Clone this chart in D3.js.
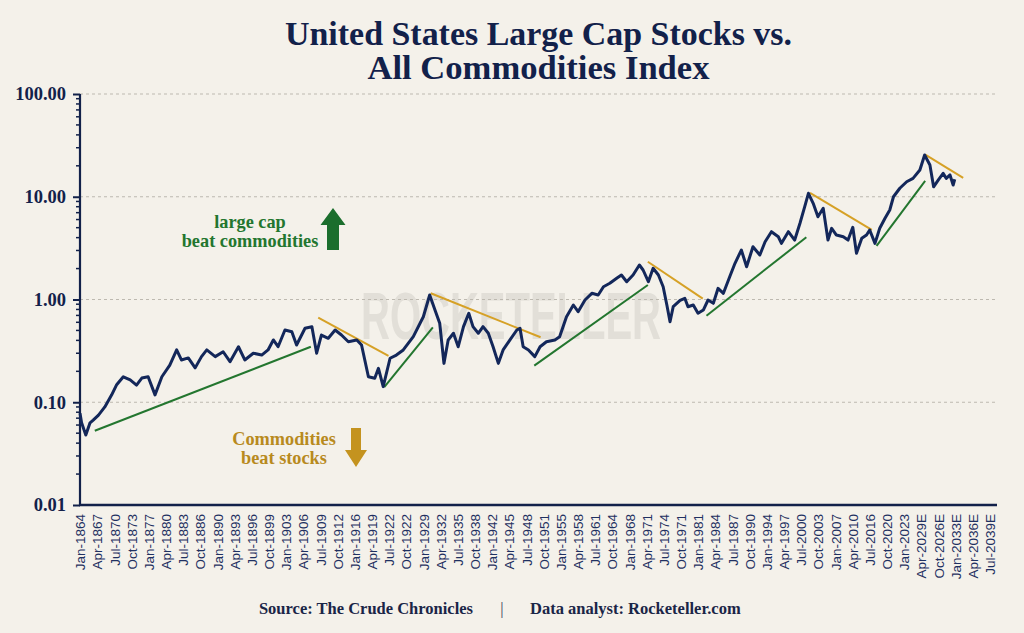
<!DOCTYPE html>
<html>
<head>
<meta charset="utf-8">
<script src="https://cdn.jsdelivr.net/npm/d3@7"></script>
<style>
  html, body { margin: 0; padding: 0; background: #f4f1ea; }
  svg { display: block; }
</style>
</head>
<body>
<svg id="chart" width="1024" height="633"></svg>
<script>
// ---------- DATA ----------
const tickLabels = ["Jan-1864","Apr-1867","Jul-1870","Oct-1873","Jan-1877","Apr-1880","Jul-1883","Oct-1886","Jan-1890","Apr-1893","Jul-1896","Oct-1899","Jan-1903","Apr-1906","Jul-1909","Oct-1912","Jan-1916","Apr-1919","Jul-1922","Oct-1922","Jan-1929","Apr-1932","Jul-1935","Oct-1938","Jan-1942","Apr-1945","Jul-1948","Oct-1951","Jan-1955","Apr-1958","Jul-1961","Oct-1964","Jan-1968","Apr-1971","Jul-1974","Oct-1971","Jan-1981","Apr-1984","Jul-1987","Oct-1990","Jan-1994","Apr-1997","Jul-2000","Oct-2003","Jan-2007","Apr-2010","Jul-2016","Oct-2020","Jan-2023","Apr-2029E","Oct-2026E","Jan-2033E","Apr-2036E","Jul-2039E"];
const tickStartYear = 1864;
const tickStepYears = 3.25;

const yTickValues = [0.01, 0.1, 1, 10, 100];

const seriesYears = [1864.0,1864.3,1865.1,1865.9,1866.5,1867.5,1868.7,1870.0,1870.9,1872.2,1873.5,1874.7,1875.7,1876.9,1878.2,1879.5,1881.0,1882.3,1883.2,1884.5,1885.8,1887.0,1888.0,1889.6,1891.1,1892.4,1894.0,1895.2,1896.8,1898.4,1899.6,1900.6,1901.5,1902.8,1904.1,1905.0,1906.6,1907.9,1908.8,1909.7,1911.0,1912.3,1913.5,1914.8,1916.4,1917.3,1918.6,1919.8,1920.5,1921.4,1922.7,1923.9,1925.2,1927.1,1929.0,1930.2,1931.2,1932.1,1932.9,1933.7,1934.7,1935.6,1936.6,1937.6,1938.4,1939.4,1940.3,1941.3,1942.2,1943.2,1944.1,1945.4,1946.7,1947.3,1947.9,1948.9,1950.1,1951.1,1952.3,1953.9,1954.8,1956.1,1957.4,1958.3,1959.6,1960.9,1962.1,1963.1,1964.3,1965.6,1966.5,1967.5,1968.7,1969.9,1970.6,1971.6,1972.5,1973.5,1974.4,1975.1,1975.7,1976.3,1977.6,1978.5,1979.1,1980.1,1981.0,1982.0,1982.9,1983.9,1984.8,1985.8,1987.0,1988.0,1989.2,1990.2,1991.4,1992.7,1993.7,1994.9,1996.2,1996.8,1998.1,1999.3,2000.3,2001.2,2001.9,2002.8,2003.7,2004.7,2005.6,2006.3,2007.2,2008.5,2009.4,2010.3,2011.0,2012.0,2012.9,2013.5,2014.5,2015.4,2016.4,2017.3,2018.0,2019.2,2020.5,2021.7,2023.0,2023.9,2024.9,2025.6,2026.5,2027.4,2028.0,2028.7,2029.3,2029.6];
const seriesValues = [0.078,0.063,0.048,0.063,0.067,0.075,0.090,0.118,0.147,0.177,0.165,0.147,0.172,0.177,0.118,0.177,0.230,0.323,0.258,0.270,0.216,0.278,0.323,0.278,0.310,0.248,0.347,0.258,0.300,0.288,0.323,0.404,0.347,0.505,0.486,0.361,0.525,0.544,0.300,0.451,0.419,0.505,0.451,0.388,0.404,0.361,0.177,0.171,0.214,0.142,0.268,0.288,0.323,0.435,0.680,1.106,0.790,0.587,0.239,0.404,0.469,0.347,0.544,0.734,0.544,0.469,0.544,0.469,0.347,0.239,0.323,0.404,0.505,0.525,0.347,0.323,0.278,0.347,0.388,0.404,0.435,0.680,0.884,0.761,0.989,1.149,1.106,1.332,1.438,1.608,1.731,1.490,1.731,2.166,1.937,1.490,2.012,1.731,1.332,0.884,0.608,0.851,0.980,1.027,0.851,0.884,0.734,0.790,0.989,0.918,1.285,1.149,1.667,2.250,3.03,2.085,3.26,2.71,3.65,4.57,4.08,3.52,4.57,3.79,5.52,8.00,10.8,8.63,6.39,7.72,3.79,4.93,4.24,4.08,3.79,5.04,2.82,3.94,4.24,4.75,3.52,4.93,6.17,7.43,10.0,12.1,14.0,15.1,18.2,25.5,20.4,12.5,14.6,16.9,15.1,16.3,13.0,14.8];

// trend lines: [startYear, startValue, endYear, endValue]
const stockTrends = [
  [1866.8, 0.0528, 1907.7, 0.347],
  [1921.6, 0.140, 1930.8, 0.536],
  [1950.0, 0.227, 1971.5, 1.384],
  [1982.6, 0.696, 2001.5, 4.03],
  [2014.8, 3.32, 2024.0, 14.3]
];
const commodityTrends = [
  [1909.1, 0.665, 1922.4, 0.282],
  [1930.4, 1.149, 1951.2, 0.429],
  [1971.5, 2.33, 1981.9, 1.02],
  [2002.2, 10.9, 2013.9, 4.75],
  [2024.1, 25.5, 2031.2, 15.3]
];

const titleLines = ["United States Large Cap Stocks vs.", "All Commodities Index"];
const stockLabel = ["large cap", "beat commodities"];
const commodityLabel = ["Commodities", "beat stocks"];
const footerSource = "Source: The Crude Chronicles";
const footerAnalyst = "Data analyst: Rocketeller.com";
const watermark = "ROCKETELLER";

// ---------- LAYOUT ----------
const NAVY = "#12214a";
const GREEN = "#23762f";
const GOLD = "#d6a126";
const GOLD_TEXT = "#b88a1e";
const plotLeft = 80, plotRight = 997, plotTop = 94, plotBottom = 505;

const svg = d3.select("#chart");
svg.append("rect").attr("width", 1024).attr("height", 633).attr("fill", "#f4f1ea");

const x = d3.scaleLinear().domain([1864, 2037.6]).range([plotLeft, plotRight]);
const y = d3.scaleLog().domain([0.01, 100]).range([plotBottom, plotTop]);

// watermark
svg.append("text")
  .attr("x", 511).attr("y", 339)
  .attr("text-anchor", "middle")
  .attr("font-family", "Liberation Sans, Arial, sans-serif")
  .attr("font-weight", "bold")
  .attr("font-size", 66)
  .attr("textLength", 300)
  .attr("lengthAdjust", "spacingAndGlyphs")
  .attr("fill", "#e2dfd8")
  .text(watermark);

// title
svg.append("g").selectAll("text").data(titleLines).join("text")
  .attr("x", (plotLeft + plotRight) / 2)
  .attr("y", (d, i) => 45 + i * 34)
  .attr("text-anchor", "middle")
  .attr("font-family", "Liberation Serif, Times New Roman, serif")
  .attr("font-weight", "bold")
  .attr("font-size", 33)
  .attr("textLength", (d, i) => i === 0 ? 507 : 342)
  .attr("lengthAdjust", "spacingAndGlyphs")
  .attr("fill", NAVY)
  .text(d => d);

// grid lines
svg.append("g").selectAll("line").data(yTickValues.filter(v => v > 0.01)).join("line")
  .attr("x1", plotLeft).attr("x2", plotRight)
  .attr("y1", d => y(d)).attr("y2", d => y(d))
  .attr("stroke", "#bdb9b0").attr("stroke-width", 1)
  .attr("stroke-dasharray", "3,3");

// y axis (major)
const yAxis = d3.axisLeft(y).tickValues(yTickValues).tickFormat(d3.format(".2f")).tickSize(7).tickPadding(7);
const yg = svg.append("g").attr("transform", `translate(${plotLeft},0)`).call(yAxis);
yg.select(".domain").remove();
yg.selectAll(".tick line").attr("stroke", NAVY).attr("stroke-width", 2);
yg.selectAll(".tick text")
  .attr("font-family", "Liberation Serif, Times New Roman, serif")
  .attr("font-weight", "bold")
  .attr("font-size", 18.5)
  .attr("fill", NAVY);

// minor ticks
const minorVals = [];
[0.01, 0.1, 1, 10].forEach(b => { for (let k = 2; k <= 9; k++) minorVals.push(b * k); });
svg.append("g").selectAll("line").data(minorVals).join("line")
  .attr("x1", plotLeft - 4).attr("x2", plotLeft)
  .attr("y1", d => y(d)).attr("y2", d => y(d))
  .attr("stroke", NAVY).attr("stroke-width", 1.5);

// y axis line
svg.append("line").attr("x1", plotLeft).attr("x2", plotLeft).attr("y1", plotTop).attr("y2", plotBottom + 1)
  .attr("stroke", NAVY).attr("stroke-width", 2.2);

// x axis labels
const tickYears = tickLabels.map((d, i) => tickStartYear + i * tickStepYears);
const xAxis = d3.axisBottom(x).tickValues(tickYears).tickFormat((d, i) => tickLabels[i]).tickSize(0).tickPadding(8);
const xg = svg.append("g").attr("transform", `translate(0,${plotBottom})`).call(xAxis);
xg.select(".domain").remove();
xg.selectAll(".tick text")
  .attr("font-family", "Liberation Sans, Arial, sans-serif")
  .attr("font-size", 13.5)
  .attr("fill", "#1f3061")
  .attr("text-anchor", "end")
  .attr("transform", "rotate(-90)")
  .attr("x", -9).attr("y", 0).attr("dy", "0.35em");

svg.append("line").attr("x1", plotLeft - 1).attr("x2", plotRight).attr("y1", plotBottom).attr("y2", plotBottom)
  .attr("stroke", NAVY).attr("stroke-width", 2.6);

// trend lines
const trendG = svg.append("g");
trendG.selectAll("line.st").data(stockTrends).join("line").attr("class", "st")
  .attr("x1", d => x(d[0])).attr("y1", d => y(d[1]))
  .attr("x2", d => x(d[2])).attr("y2", d => y(d[3]))
  .attr("stroke", GREEN).attr("stroke-width", 2);
trendG.selectAll("line.ct").data(commodityTrends).join("line").attr("class", "ct")
  .attr("x1", d => x(d[0])).attr("y1", d => y(d[1]))
  .attr("x2", d => x(d[2])).attr("y2", d => y(d[3]))
  .attr("stroke", GOLD).attr("stroke-width", 2);

// main line
const series = seriesYears.map((yr, i) => ({ yr, v: seriesValues[i] }));
svg.append("path").datum(series)
  .attr("fill", "none")
  .attr("stroke", "#13275a")
  .attr("stroke-width", 3)
  .attr("stroke-linejoin", "round")
  .attr("d", d3.line().x(d => x(d.yr)).y(d => y(d.v)));

// annotations
const ann = svg.append("g")
  .attr("font-family", "Liberation Serif, Times New Roman, serif")
  .attr("font-weight", "bold")
  .attr("font-size", 18.3);
ann.selectAll("text.g").data(stockLabel).join("text").attr("class", "g")
  .attr("x", 250).attr("y", (d, i) => 228 + i * 19)
  .attr("text-anchor", "middle").attr("fill", GREEN).text(d => d);
ann.selectAll("text.o").data(commodityLabel).join("text").attr("class", "o")
  .attr("x", 284).attr("y", (d, i) => 445 + i * 18.5)
  .attr("text-anchor", "middle").attr("fill", GOLD_TEXT).text(d => d);

// up arrow (green)
svg.append("path")
  .attr("d", "M333,208 L345.5,225 L339,225 L339,250 L327,250 L327,225 L320.5,225 Z")
  .attr("fill", "#1b6e2d");
// down arrow (gold)
svg.append("path")
  .attr("d", "M351,428 L361,428 L361,450 L367,450 L356,467 L345,450 L351,450 Z")
  .attr("fill", "#c4931f");

// footer
const foot = svg.append("g")
  .attr("font-family", "Liberation Serif, Times New Roman, serif")
  .attr("font-weight", "bold")
  .attr("font-size", 16.5)
  .attr("fill", "#1a2547");
foot.append("text").attr("x", 473).attr("y", 614).attr("text-anchor", "end").text(footerSource);
foot.append("text").attr("x", 502).attr("y", 614).attr("text-anchor", "middle")
  .attr("font-weight", "normal").attr("fill", "#3a4260").text("|");
foot.append("text").attr("x", 530).attr("y", 614).attr("text-anchor", "start").text(footerAnalyst);
</script>
</body>
</html>
